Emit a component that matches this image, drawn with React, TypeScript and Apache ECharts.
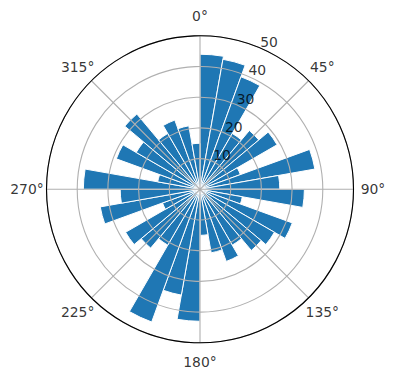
import React, { useEffect, useRef } from "react";
import * as echarts from "echarts";

// Bar sectors: start angle (degrees, clockwise from north), each 10° wide
const sectorStarts = [
  0, 10, 20, 30, 40, 50, 60, 70, 80, 90, 100, 110, 120, 130, 140, 150, 160, 170,
  180, 190, 200, 210, 220, 230, 240, 250, 260, 270, 280, 290, 300, 310, 320, 330, 340, 350,
];
const barValues = [
  44, 43, 39, 21, 25, 29, 14, 38, 26, 34, 14, 32, 28, 26, 21, 25, 21, 15,
  43, 35, 46, 21, 25, 28, 13, 33, 26, 38, 14, 29, 24, 32, 21, 24, 21, 15,
];
const angleTicks = [0, 45, 90, 135, 180, 225, 270, 315];
const radialTicks = [10, 20, 30, 40, 50];
const radialLabelAngle = 22.5;

const FONT = "DejaVu Sans";
const FS = 13.9;

export default function App() {
  const ref = useRef<HTMLDivElement>(null);
  useEffect(() => {
    if (!ref.current) return;
    const chart = echarts.init(ref.current, undefined, { renderer: "svg" });
    const center = [200, 189.3];
    const radius = 153.5;
    const labelRadius = 173;
    chart.setOption({
      animation: false,
      backgroundColor: "#fff",
      polar: [
        { center, radius },
        { center, radius },
        { center, radius: labelRadius },
      ],
      angleAxis: [
        {
          polarIndex: 0,
          type: "category",
          data: sectorStarts.map(String),
          startAngle: 90,
          clockwise: true,
          boundaryGap: true,
          axisLine: { show: false },
          axisTick: { show: false },
          axisLabel: { show: false },
          splitLine: { show: false },
        },
        {
          polarIndex: 1,
          type: "value",
          min: 0,
          max: 360,
          interval: 45,
          startAngle: 90,
          clockwise: true,
          z: 3,
          axisLine: { show: true, lineStyle: { color: "#000", width: 1.1 } },
          axisTick: { show: false },
          axisLabel: { show: false },
          splitLine: { show: true, lineStyle: { color: "#b0b0b0", width: 1.1 } },
        },
        {
          polarIndex: 2,
          type: "value",
          min: 0,
          max: 360,
          startAngle: 90,
          clockwise: true,
          show: false,
        },
      ],
      radiusAxis: [
        {
          polarIndex: 0,
          type: "value",
          min: 0,
          max: 50,
          show: false,
        },
        {
          polarIndex: 1,
          type: "value",
          min: 0,
          max: 50,
          interval: 10,
          z: 3,
          axisLine: { show: false },
          axisTick: { show: false },
          axisLabel: { show: false },
          splitLine: { show: true, lineStyle: { color: "#b0b0b0", width: 1.1 } },
        },
        {
          polarIndex: 2,
          type: "value",
          min: 0,
          max: 1,
          show: false,
        },
      ],
      series: [
        {
          type: "bar",
          coordinateSystem: "polar",
          polarIndex: 0,
          data: barValues,
          barCategoryGap: "0%",
          z: 2,
          itemStyle: { color: "#1f77b4", borderColor: "#ffffff", borderWidth: 1 },
          silent: true,
        },
        {
          type: "scatter",
          coordinateSystem: "polar",
          polarIndex: 1,
          data: radialTicks.map((r) => [r, radialLabelAngle]),
          symbolSize: 1,
          itemStyle: { color: "transparent" },
          z: 5,
          silent: true,
          label: {
            show: true,
            position: [2, 2],
            align: "left",
            verticalAlign: "bottom",
            fontFamily: FONT,
            fontSize: FS,
            color: "#000",
            formatter: (p: any) => String(p.value[0]),
          },
        },
        {
          type: "scatter",
          coordinateSystem: "polar",
          polarIndex: 2,
          data: angleTicks.map((a) => [1, a]),
          symbolSize: 1,
          itemStyle: { color: "transparent" },
          z: 5,
          silent: true,
          label: {
            show: true,
            position: "inside",
            align: "center",
            verticalAlign: "middle",
            fontFamily: FONT,
            fontSize: FS,
            color: "#000",
            formatter: (p: any) => p.value[1] + "°",
          },
        },
      ],
    });
    return () => chart.dispose();
  }, []);
  return (
    <div
      ref={ref}
      style={{ position: "fixed", left: 0, top: 0, width: 396, height: 380, background: "#fff" }}
    />
  );
}
